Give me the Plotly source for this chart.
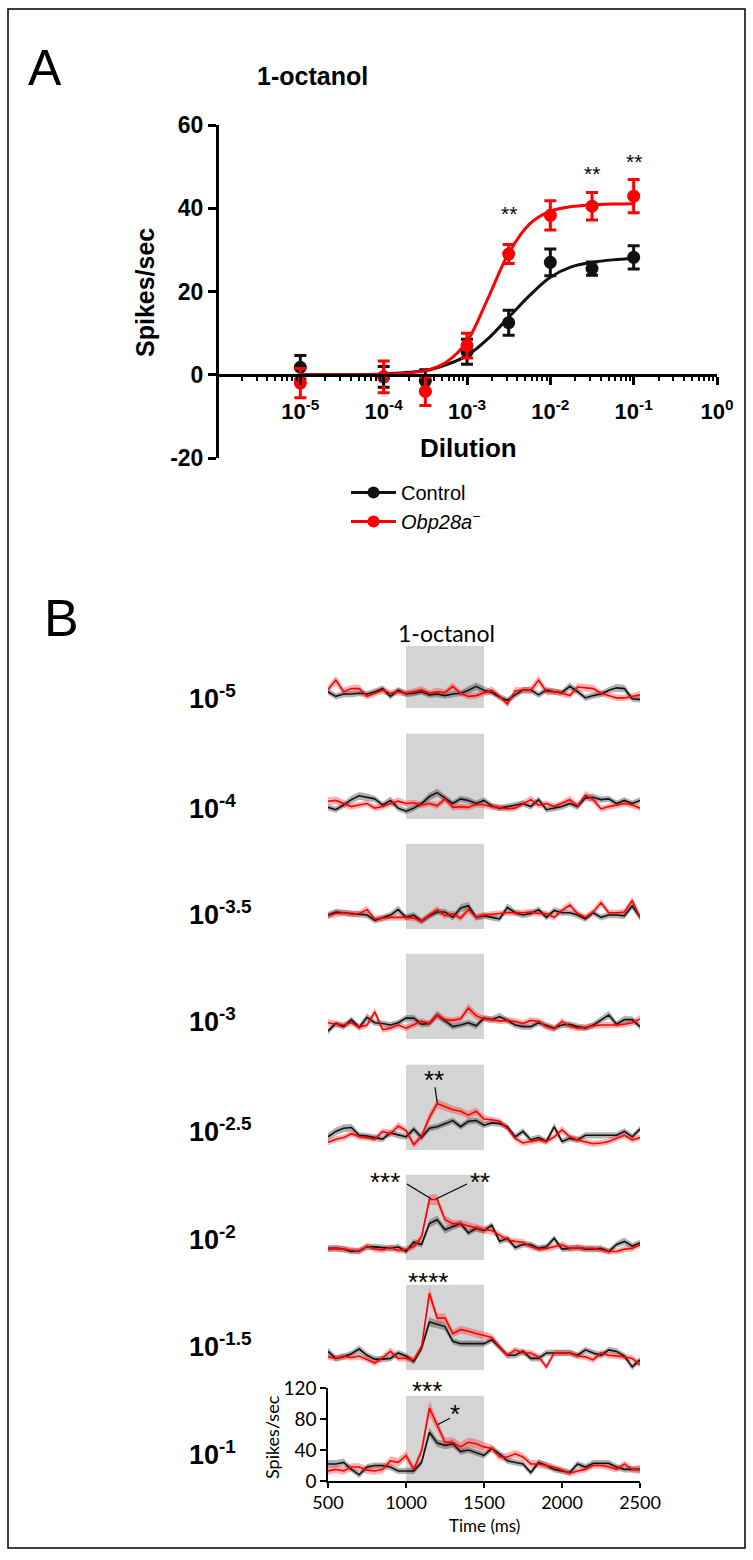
import plotly.graph_objects as go

W, H = 753, 1560
def px(x):
    return x / W
def py(y):
    return 1 - y / H

# ---------------- Panel A data ----------------
dilution_log = [-5, -4, -3.5, -3, -2.5, -2, -1.5, -1]
ctrl_mean = [1.8, -0.5, -1.5, 5.5, 12.5, 27.0, 25.5, 28.2]
ctrl_sem = [2.8, 2.5, 2.7, 3.0, 3.0, 3.2, 1.6, 2.8]
mut_mean = [-2.0, -0.5, -4.0, 7.0, 29.0, 38.3, 40.5, 42.9]
mut_sem = [3.5, 3.8, 3.4, 3.0, 2.3, 3.5, 3.3, 4.0]
fit_log = [-5, -4.5, -4, -3.5, -3.25, -3, -2.75, -2.5, -2.25, -2, -1.75, -1.5, -1.25, -1]
ctrl_fit = [0, 0, 0.2, 1.0, 2.4, 4.6, 8.6, 13.8, 19.0, 23.4, 25.9, 27.0, 27.6, 27.9]
mut_fit = [0, 0, 0.1, 1.0, 3.0, 8.0, 18.3, 29.2, 36.2, 39.3, 40.4, 40.8, 41.0, 41.1]
sig_log = [-2.5, -1.5, -1]
sig_val = [38.8, 48.4, 51.3]
sig_text = ["**", "**", "**"]
decade_log = [-5, -4, -3, -2, -1, 0]
decade_text = ["10<sup>-5</sup>", "10<sup>-4</sup>", "10<sup>-3</sup>",
               "10<sup>-2</sup>", "10<sup>-1</sup>", "10<sup>0</sup>"]
ytick_vals = [-20, 0, 20, 40, 60]
ytick_text = ["-20", "0", "20", "40", "60"]

# ---------------- Panel B data ----------------
time_ms = [500, 550, 600, 650, 700, 750, 800, 850, 900, 950, 1000, 1050, 1100, 1150,
           1200, 1250, 1300, 1350, 1400, 1450, 1500, 1550, 1600, 1650, 1700, 1750,
           1800, 1850, 1900, 1950, 2000, 2050, 2100, 2150, 2200, 2250, 2300, 2350,
           2400, 2450, 2500]
row_exp = ["-5", "-4", "-3.5", "-3", "-2.5", "-2", "-1.5", "-1"]

ctrl_r1 = [21,15,18,18,19,18,21,25,15,23,18,19,21,17,18,16,18,19,23,28,23,20,14,10,17,23,23,17,23,21,20,28,21,13,16,18,23,26,25,12,11]
mut_r1 = [24,36,21,25,25,15,19,23,19,21,19,21,23,19,21,20,28,19,15,16,19,23,15,5,22,23,23,36,21,21,19,16,27,26,25,19,16,13,13,15,17]
ctrl_r2 = [15,12,18,25,30,28,26,18,24,14,10,14,20,29,34,27,20,26,24,20,24,17,14,16,18,20,16,25,12,14,16,20,16,27,28,25,26,20,24,20,24]
mut_r2 = [23,24,20,16,18,20,14,16,20,23,20,21,18,20,17,26,15,16,15,19,18,16,15,13,14,20,25,18,20,16,20,25,17,31,25,13,16,18,20,18,14]
ctrl_r3 = [18,22,21,20,19,18,11,14,18,25,15,18,10,17,22,22,15,27,30,15,17,15,13,28,21,18,20,25,15,24,21,21,18,13,21,15,18,18,17,30,15]
mut_r3 = [17,20,21,19,20,25,13,14,15,15,15,14,10,18,25,17,20,14,25,15,18,19,20,21,21,21,22,20,20,15,24,31,20,15,22,34,21,21,22,37,15]
ctrl_r4 = [10,20,16,25,15,28,21,20,18,21,27,27,19,20,31,23,16,18,21,17,27,25,29,24,18,16,16,21,17,14,18,19,16,14,18,25,31,19,25,25,16]
mut_r4 = [21,19,18,21,15,18,35,12,14,18,14,19,23,20,31,25,24,26,40,30,26,25,23,24,23,20,24,23,16,13,23,16,14,15,17,18,18,18,19,21,26]
ctrl_r5 = [17,24,28,29,19,18,16,14,22,19,17,27,16,28,30,34,38,30,37,38,32,35,34,30,17,24,13,16,11,30,11,15,13,19,19,19,19,19,24,17,27]
mut_r5 = [10,14,16,21,17,16,14,24,21,31,25,7,18,42,60,56,52,50,45,50,40,39,37,28,15,9,11,13,11,17,26,17,13,10,8,9,11,15,19,13,16]
ctrl_r6 = [15,15,14,11,12,17,17,16,15,17,11,23,20,47,52,39,43,47,35,41,38,45,24,28,16,20,20,15,17,28,14,15,16,14,14,15,11,20,24,18,22]
mut_r6 = [14,15,14,13,11,18,14,13,16,12,14,17,30,78,78,52,47,47,44,41,39,38,32,26,24,23,17,14,15,17,20,15,16,15,15,13,11,11,14,15,20]
ctrl_r7 = [24,15,17,21,27,19,14,14,15,22,18,11,28,62,59,56,37,34,34,34,34,39,29,19,19,24,15,15,22,22,22,22,19,26,22,19,26,24,18,4,13]
mut_r7 = [17,15,18,16,18,14,9,16,24,15,15,13,30,99,67,67,47,52,50,47,44,42,30,19,26,22,22,17,4,22,22,22,18,17,13,22,19,18,17,15,7]
ctrl_r8 = [22,22,24,15,8,18,20,20,18,13,13,13,24,63,49,46,48,38,40,37,33,42,35,26,24,22,11,24,20,15,13,11,22,18,23,23,23,18,15,15,15]
mut_r8 = [13,15,13,18,18,14,13,15,26,24,33,15,39,94,72,50,50,44,50,48,44,42,31,31,35,31,22,22,20,18,14,10,13,15,20,20,18,15,22,15,15]

ctrl_sem_r1 = [4,4,4,4,4,4,4,4,4,4,4,4,4,4,4,4,4,4,5,5,5,4,4,4,4,4,4,4,4,4,4,5,4,4,4,4,4,5,5,4,4]
mut_sem_r1 = [5,6,5,5,5,4,4,5,4,5,4,5,5,4,5,4,5,4,4,4,4,5,4,4,5,4,5,6,5,4,4,4,5,5,5,4,4,4,4,4,5]
ctrl_sem_r2 = [4,4,4,5,5,5,4,4,5,4,4,4,4,5,5,4,4,4,4,4,4,4,4,4,4,4,4,4,4,4,4,4,4,4,5,4,4,4,4,4,4]
mut_sem_r2 = [5,5,5,4,4,4,4,4,4,5,4,4,4,4,4,5,4,4,4,4,4,4,4,4,4,4,5,4,4,4,4,5,4,5,5,4,4,4,4,4,4]
ctrl_sem_r3 = [4,4,4,4,4,4,4,4,4,5,4,4,4,4,4,4,4,5,5,4,4,4,4,5,4,4,4,4,4,4,4,4,4,4,4,4,4,4,4,5,4]
mut_sem_r3 = [4,5,4,4,4,5,4,4,4,4,4,4,4,4,5,4,4,4,5,4,4,4,4,4,4,4,4,4,4,4,4,5,4,4,4,5,4,4,4,5,4]
ctrl_sem_r4 = [4,4,4,4,4,5,4,4,4,4,4,4,4,4,5,4,4,4,4,4,4,4,5,4,4,4,4,4,4,4,4,4,4,4,4,4,5,4,5,4,4]
mut_sem_r4 = [5,4,4,4,4,4,5,4,4,4,4,4,4,4,5,4,4,4,6,5,4,4,4,4,4,4,4,4,4,4,4,4,4,4,4,4,4,4,4,4,5]
ctrl_sem_r5 = [5,5,5,5,4,4,4,4,4,4,4,4,4,4,4,4,4,4,4,4,4,4,4,4,4,4,4,4,4,5,4,4,4,4,4,4,4,4,4,4,4]
mut_sem_r5 = [4,4,4,4,4,4,4,4,5,5,4,4,5,6,6,6,5,5,5,5,5,4,4,4,4,4,4,4,4,4,5,4,4,4,4,4,4,4,4,4,4]
ctrl_sem_r6 = [4,4,4,4,4,4,4,4,4,4,4,4,4,5,5,5,4,4,4,4,4,4,4,4,4,4,4,4,4,4,4,4,4,4,4,4,4,4,5,4,4]
mut_sem_r6 = [4,4,4,4,4,4,4,4,4,4,4,4,5,7,7,5,5,5,5,5,5,5,4,4,4,4,4,4,4,4,4,4,4,4,4,4,4,4,4,4,4]
ctrl_sem_r7 = [5,4,4,4,5,4,4,4,4,4,4,4,4,6,5,5,4,4,4,4,4,4,4,4,4,4,4,4,4,4,4,4,4,4,4,4,4,4,4,4,4]
mut_sem_r7 = [4,4,4,4,4,4,4,4,5,4,4,4,5,8,6,6,5,5,5,5,5,5,4,4,4,4,4,4,4,4,4,4,4,4,4,4,4,4,4,4,4]
ctrl_sem_r8 = [5,5,5,4,4,4,4,4,4,4,4,4,4,6,5,5,5,4,4,4,4,4,4,4,4,4,4,4,4,4,4,4,4,4,4,4,4,4,4,4,4]
mut_sem_r8 = [5,5,5,5,5,5,5,5,6,6,6,5,6,10,7,6,6,6,6,6,6,5,5,5,5,5,5,5,5,4,4,4,4,4,4,4,4,4,4,4,6]

ctrl_rows = [ctrl_r1, ctrl_r2, ctrl_r3, ctrl_r4, ctrl_r5, ctrl_r6, ctrl_r7, ctrl_r8]
mut_rows = [mut_r1, mut_r2, mut_r3, mut_r4, mut_r5, mut_r6, mut_r7, mut_r8]
ctrl_sem_rows = [ctrl_sem_r1, ctrl_sem_r2, ctrl_sem_r3, ctrl_sem_r4, ctrl_sem_r5, ctrl_sem_r6, ctrl_sem_r7, ctrl_sem_r8]
mut_sem_rows = [mut_sem_r1, mut_sem_r2, mut_sem_r3, mut_sem_r4, mut_sem_r5, mut_sem_r6, mut_sem_r7, mut_sem_r8]

stim_on, stim_off, stim_height = 1000, 1500, 110

# significance marks in panel B: (row index, time, value, text)
b_stars = [(4, 1180, 90, "**"), (5, 865, 101, "***"), (5, 1474, 101, "**"),
           (6, 1141, 113, "****"), (7, 1135, 116, "***"), (7, 1314, 87, "*")]
# connector lines: (row index, t0, v0, t1, v1)
b_links = [(4, 1186, 81, 1200, 61), (5, 1006, 98, 1160, 79), (5, 1195, 79, 1391, 98),
           (7, 1205, 73, 1282, 81)]

# ---------------- Layout geometry ----------------
A_left, A_right, A_top, A_bottom, A_zero = 217, 717, 125, 458, 375
B_left, B_right = 328, 640
row_bottom = [708, 819, 929, 1039, 1150, 1260, 1370, 1481]
row_range_top = [80, 120, 120, 120, 120, 120, 120, 120]
px_per_unit = 0.775
row_label_y = [697, 807, 913, 1020, 1130, 1238, 1345, 1453]

BLACK = "#111111"
RED = "#ff0000"
NARROW = "Liberation Sans Narrow, Liberation Sans, Arial, sans-serif"
SANS = "Liberation Sans, Arial, sans-serif"
LATO = "Lato, Open Sans, sans-serif"

fig = go.Figure()

# ---- Panel A traces ----
fig.add_trace(go.Scatter(x=[10 ** v for v in fit_log], y=ctrl_fit, mode="lines",
                         line=dict(color=BLACK, width=3, shape="spline", smoothing=1.0),
                         showlegend=False, hoverinfo="skip", xaxis="x", yaxis="y"))
fig.add_trace(go.Scatter(x=[10 ** v for v in dilution_log], y=ctrl_mean, mode="markers",
                         marker=dict(color=BLACK, size=13),
                         error_y=dict(type="data", array=ctrl_sem, color=BLACK, thickness=3, width=6),
                         showlegend=False, xaxis="x", yaxis="y"))
fig.add_trace(go.Scatter(x=[10 ** v for v in fit_log], y=mut_fit, mode="lines",
                         line=dict(color=RED, width=3, shape="spline", smoothing=1.0),
                         showlegend=False, hoverinfo="skip", xaxis="x", yaxis="y"))
fig.add_trace(go.Scatter(x=[10 ** v for v in dilution_log], y=mut_mean, mode="markers",
                         marker=dict(color=RED, size=13),
                         error_y=dict(type="data", array=mut_sem, color=RED, thickness=3, width=6),
                         showlegend=False, xaxis="x", yaxis="y"))
# legend entries
fig.add_trace(go.Scatter(x=[None], y=[None], mode="lines+markers", name="Control",
                         line=dict(color=BLACK, width=3), marker=dict(color=BLACK, size=12),
                         xaxis="x", yaxis="y"))
fig.add_trace(go.Scatter(x=[None], y=[None], mode="lines+markers",
                         name="<i>Obp28a</i><sup>−</sup>",
                         line=dict(color=RED, width=3), marker=dict(color=RED, size=12),
                         xaxis="x", yaxis="y"))

# ---- Panel B traces ----
shapes = []
annotations = []
for i in range(8):
    ya = "y%d" % (i + 2)
    for mean, sem, band in [(ctrl_rows[i], ctrl_sem_rows[i], "rgba(60,60,60,0.40)"),
                            (mut_rows[i], mut_sem_rows[i], "rgba(255,20,20,0.33)")]:
        upper = [m + s for m, s in zip(mean, sem)]
        lower = [m - s for m, s in zip(mean, sem)]
        fig.add_trace(go.Scatter(x=time_ms + time_ms[::-1], y=upper + lower[::-1],
                                 fill="toself", fillcolor=band, line=dict(width=0),
                                 mode="lines", showlegend=False, hoverinfo="skip",
                                 xaxis="x2", yaxis=ya))
    for mean, col in [(ctrl_rows[i], BLACK), (mut_rows[i], RED)]:
        fig.add_trace(go.Scatter(x=time_ms, y=mean, mode="lines",
                                 line=dict(color=col, width=1.6),
                                 showlegend=False, hoverinfo="skip",
                                 xaxis="x2", yaxis=ya))
    shapes.append(dict(type="rect", xref="x2", yref=ya, x0=stim_on, x1=stim_off,
                       y0=0, y1=min(stim_height, row_range_top[i]),
                       fillcolor="#d4d4d4", line=dict(width=0), layer="below"))
    annotations.append(dict(x=px(187), y=py(row_label_y[i]), xref="paper", yref="paper",
                            xanchor="left", yanchor="middle", showarrow=False,
                            text="<b>10<sup>%s</sup></b>" % row_exp[i],
                            font=dict(family=SANS, size=27, color="black")))

for (ri, t, v, txt) in b_stars:
    annotations.append(dict(x=t, y=v, xref="x2", yref="y%d" % (ri + 2), showarrow=False,
                            text=txt, xanchor="center", yanchor="middle",
                            font=dict(family=SANS, size=26, color="black")))
for (ri, t0, v0, t1, v1) in b_links:
    shapes.append(dict(type="line", xref="x2", yref="y%d" % (ri + 2), x0=t0, y0=v0,
                       x1=t1, y1=v1, line=dict(color="black", width=1.2)))

# panel A significance stars
for lx, v, txt in zip(sig_log, sig_val, sig_text):
    annotations.append(dict(x=lx, y=v, xref="x", yref="y", showarrow=False, text=txt,
                            font=dict(family=SANS, size=21, color="black")))

# text labels
annotations += [
    dict(x=px(26), y=py(68), xref="paper", yref="paper", text="A", showarrow=False,
         xanchor="left", yanchor="middle", font=dict(family=SANS, size=50, color="black")),
    dict(x=px(312), y=py(76), xref="paper", yref="paper", text="<b>1-octanol</b>",
         showarrow=False, xanchor="center", yanchor="middle",
         font=dict(family=SANS, size=25, color="black")),
    dict(x=px(145), y=py(293), xref="paper", yref="paper", text="<b>Spikes/sec</b>",
         showarrow=False, textangle=-90, xanchor="center", yanchor="middle",
         font=dict(family=SANS, size=25, color="black")),
    dict(x=px(468), y=py(448), xref="paper", yref="paper", text="<b>Dilution</b>",
         showarrow=False, xanchor="center", yanchor="middle",
         font=dict(family=SANS, size=26, color="black")),
    dict(x=px(42), y=py(618), xref="paper", yref="paper", text="B", showarrow=False,
         xanchor="left", yanchor="middle", font=dict(family=SANS, size=52, color="black")),
    dict(x=px(446), y=py(633), xref="paper", yref="paper", text="1-octanol",
         showarrow=False, xanchor="center", yanchor="middle",
         font=dict(family=LATO, size=23, color="black")),
    dict(x=px(272), y=py(1437), xref="paper", yref="paper", text="Spikes/sec",
         showarrow=False, textangle=-90, xanchor="center", yanchor="middle",
         font=dict(family=LATO, size=18, color="black")),
    dict(x=px(484), y=py(1525), xref="paper", yref="paper", text="Time (ms)",
         showarrow=False, xanchor="center", yanchor="middle",
         font=dict(family=LATO, size=17, color="black")),
]

# frame
shapes.append(dict(type="rect", xref="paper", yref="paper", x0=px(8), x1=px(745),
                   y0=py(1548), y1=py(9), line=dict(color="black", width=1.5),
                   fillcolor="rgba(0,0,0,0)", layer="above"))

minor_vals = [m * 10 ** d for d in range(-6, 0) for m in range(2, 10)]

layout = dict(
    template="none",
    width=W, height=H, margin=dict(l=0, r=0, t=0, b=0, pad=0, autoexpand=False),
    paper_bgcolor="white", plot_bgcolor="rgba(0,0,0,0)",
    showlegend=True,
    legend=dict(x=px(346), y=py(473), xanchor="left", yanchor="top",
                font=dict(family=SANS, size=20, color="black"),
                bgcolor="rgba(0,0,0,0)", itemwidth=45, tracegroupgap=0),
    xaxis=dict(domain=[px(A_left), px(A_right)], type="log", range=[-6, 0],
               anchor="free", position=py(A_zero), automargin=False,
               showline=True, linecolor="black", linewidth=3,
               ticks="outside", ticklen=8, tickwidth=3, tickcolor="black",
               tickvals=[10 ** v for v in decade_log], ticktext=decade_text,
               tickfont=dict(family=SANS, size=22, color="black", weight="bold"),
               ticklabelstandoff=8,
               minor=dict(tickvals=minor_vals, ticks="outside", ticklen=4, tickwidth=2,
                          tickcolor="black", showgrid=False),
               showgrid=False, zeroline=False),
    yaxis=dict(domain=[py(A_bottom), py(A_top)], range=[-20, 60],
               anchor="free", position=px(A_left), automargin=False,
               showline=True, linecolor="black", linewidth=3,
               ticks="outside", ticklen=8, tickwidth=3, tickcolor="black",
               tickvals=ytick_vals, ticktext=ytick_text,
               tickfont=dict(family=NARROW, size=23, color="black", weight="bold"),
               showgrid=False, zeroline=False),
    xaxis2=dict(domain=[px(B_left), px(B_right)], range=[500, 2500], anchor="y9",
                automargin=False,
                showline=True, linecolor="black", linewidth=1.5,
                ticks="outside", ticklen=5, tickwidth=1.5, tickcolor="black",
                tickvals=[500, 1000, 1500, 2000, 2500],
                tickfont=dict(family=LATO, size=18, color="black"),
                showgrid=False, zeroline=False),
    shapes=shapes, annotations=annotations,
)
for i in range(8):
    top_px = row_bottom[i] - row_range_top[i] * px_per_unit
    ax = dict(domain=[py(row_bottom[i]), py(top_px)], range=[0, row_range_top[i]],
              anchor="x2", showgrid=False, zeroline=False, automargin=False)
    if i == 7:
        ax.update(showline=True, linecolor="black", linewidth=1.5, ticks="outside",
                  ticklen=6, tickwidth=1.5, tickcolor="black", tickvals=[0, 40, 80, 120],
                  tickfont=dict(family=LATO, size=19, color="black"))
    else:
        ax.update(visible=False)
    layout["yaxis%d" % (i + 2)] = ax

fig.update_layout(**layout)
fig.write_html("out.html", config={"displayModeBar": False},
               post_script="document.body.style.margin='0';document.body.style.padding='0';")
